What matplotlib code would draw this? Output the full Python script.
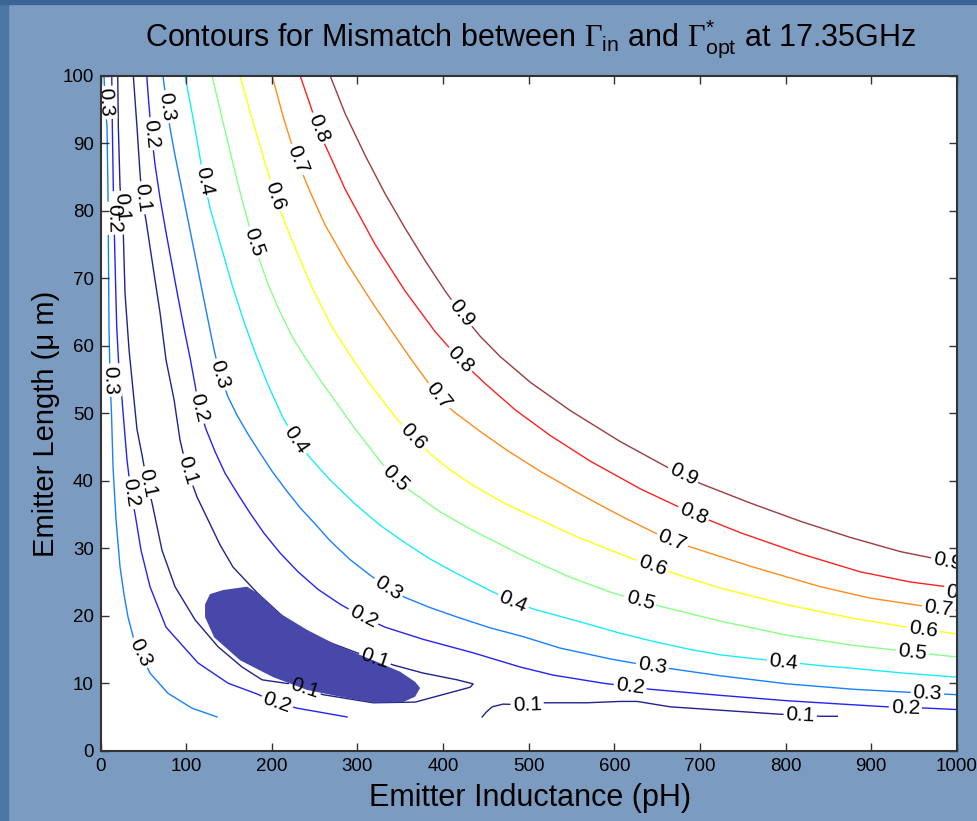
import numpy as np
import matplotlib.pyplot as plt
from matplotlib.patches import Rectangle

plt.rcParams['font.family'] = ['Liberation Sans', 'DejaVu Sans']
plt.rcParams['mathtext.fontset'] = 'custom'
plt.rcParams['mathtext.rm'] = 'Liberation Sans'
plt.rcParams['mathtext.it'] = 'Liberation Sans:italic'
plt.rcParams['mathtext.bf'] = 'Liberation Sans:bold'
plt.rcParams['mathtext.cal'] = 'Liberation Serif'

# contour paths: emitter inductance (pH), emitter length (um)
c09_x = [268, 285.5, 308.9, 332.3, 355.6, 379.0, 402.4, 421.1, 443.3, 466.6, 501.7, 548.4, 606.9, 661.8, 680.5, 700.3, 758.7, 817.2, 875.6, 934.0, 1000]
c09_y = [100, 94.4, 88.2, 82.5, 77.4, 72.6, 68.1, 64.8, 61.4, 58.4, 54.6, 50.4, 45.8, 42.0, 40.9, 39.6, 36.7, 34.0, 31.6, 29.5, 27.8]

c08_x = [233.0, 256.2, 285.5, 320.6, 355.6, 390.6, 419.8, 449.1, 484.2, 525.1, 571.9, 630.3, 692.3, 747.2, 817.2, 887.3, 945.7, 1000]
c08_y = [100, 91.4, 83.2, 75.0, 68.1, 62.1, 57.9, 54.4, 50.5, 46.7, 42.9, 38.8, 35.1, 32.3, 29.2, 26.5, 25.0, 24.1]

c07_x = [200.2, 213.0, 223.5, 232.9, 244.6, 262.1, 287.8, 318.2, 338.1, 361.5, 394.2, 411.7, 443.3, 474.8, 513.4, 551.9, 583.5, 610.4, 645.4, 667.6, 688.7, 762.3, 840.6, 899.0, 957.5, 1000]
c07_y = [100, 94.0, 89.7, 86.4, 82.8, 77.9, 72.2, 66.2, 62.5, 58.2, 52.5, 50.3, 47.3, 44.5, 41.4, 38.6, 36.4, 34.6, 32.4, 31.1, 30.2, 27.2, 24.3, 22.6, 21.5, 20.8]

c06_x = [162.8, 174.5, 186.2, 195.4, 203.6, 214.2, 227.1, 248.1, 271.5, 291.4, 311.2, 332.2, 346.3, 365.0, 384.8, 408.2, 435.1, 472.5, 513.4, 554.3, 591.7, 622.1, 644.3, 668.9, 723.8, 802.1, 879.3, 937.7, 961.1, 1000]
c06_y = [100, 94.6, 89.6, 85.6, 82.2, 78.5, 74.5, 68.3, 62.5, 58.6, 54.9, 51.4, 49.1, 46.5, 44.0, 41.6, 39.3, 36.6, 34.2, 31.8, 29.9, 28.4, 27.4, 26.3, 24.1, 21.6, 19.6, 18.4, 18.0, 17.3]

c05_x = [130.1, 141.8, 153.5, 165.1, 174.5, 183.8, 195.5, 209.5, 224.7, 242.3, 259.8, 279.7, 294.8, 326.4, 343.9, 361.5, 396.5, 435.1, 495.9, 548.4, 595.2, 630.2, 653.6, 723.8, 802.1, 879.3, 922.5, 948.2, 969.3, 1000]
c05_y = [100, 93.7, 87.5, 81.6, 77.3, 73.3, 69.1, 65.0, 61.1, 57.6, 54.3, 50.8, 48.1, 42.9, 40.4, 38.5, 35.4, 32.6, 28.7, 25.7, 23.5, 22.2, 21.4, 19.2, 17.1, 15.6, 15.0, 14.6, 14.3, 13.9]

c04_x = [98.5, 104.4, 110.2, 116.1, 120.7, 127.7, 141.8, 153.5, 167.5, 181.5, 195.5, 213.0, 228.2, 244.6, 268.0, 298.4, 326.4, 355.6, 384.8, 415.2, 458.4, 481.8, 505.2, 536.8, 568.3, 606.9, 645.4, 688.7, 723.8, 758.8, 797.4, 840.6, 879.3, 937.7, 1000]
c04_y = [100, 96.1, 92.1, 87.8, 84.4, 80.4, 74.2, 69.0, 63.5, 58.6, 54.2, 49.3, 46.0, 43.4, 40.1, 36.4, 33.4, 30.8, 28.4, 26.3, 23.5, 22.1, 21.0, 19.9, 18.8, 17.4, 16.2, 15.0, 14.2, 13.7, 13.2, 12.6, 12.2, 11.5, 10.9]

c03a_x = [3.9, 5.0, 7.4, 8.5, 9.1, 9.7, 10.9, 12.6, 14.4, 17.9, 22.6, 27.3, 31.9, 38.9, 45.9, 57.6, 78.6, 106.7, 135.9]
c03a_y = [100, 96.0, 92.4, 82.6, 72.7, 62.8, 54.9, 50.0, 42.0, 34.2, 27.2, 23.1, 19.8, 16.4, 14.5, 11.5, 8.5, 6.3, 5.0]
c03b_x = [72.8, 76.3, 81.0, 86.8, 93.8, 102.0, 110.2, 118.4, 125.4, 132.4, 139.4, 148.8, 159.3, 172.1, 186.2, 200.2, 216.6, 232.9, 250.5, 268.0, 291.4, 314.8, 335.7, 355.6,
          384.8, 416.4, 455.0, 493.5, 536.8, 595.2, 644.3, 668.9, 723.8, 802.1, 879.3, 937.7, 965.8, 1000]
c03b_y = [100, 96.4, 92.2, 88.2, 83.8, 78.6, 73.4, 68.2, 63.8, 59.4, 55.7, 52.4, 49.7, 46.9, 44.1, 41.4, 38.6, 36.0, 33.6, 31.1, 28.3, 26.0, 24.1, 22.7,
          21.2, 19.8, 18.2, 16.9, 15.2, 13.6, 12.5, 12.1, 11.1, 9.9, 9.1, 8.7, 8.5, 8.3]

c02a_x = [12.9, 13.6, 14.7, 15.5, 16.7, 18.7, 21.4, 24.9, 30.7, 35.4, 40.1, 47.1, 57.6, 76.3, 113.7, 148.8, 182.7, 206.0, 229.4, 287.8]
c02a_y = [100, 92.4, 83.5, 78.9, 72.7, 62.8, 56.4, 52.0, 43.1, 38.2, 35.1, 29.7, 24.3, 18.3, 13.0, 10.0, 8.4, 7.1, 6.3, 5.0]
c02b_x = [53.8, 55.9, 58.8, 63.5, 69.3, 76.3, 83.3, 90.3, 97.3, 104.4, 110.2, 114.9, 123.1, 133.6, 145.3, 159.3, 174.5, 190.9, 209.5, 230.6, 253.9, 279.7, 306.6,
          332.2, 376.7, 435.1, 490.0, 528.6, 587.0, 618.6, 641.9, 723.8, 802.1, 879.3, 919.0, 940.0, 965.8, 1000]
c02b_y = [100, 96.4, 92.0, 86.8, 81.9, 76.8, 72.0, 67.2, 62.6, 58.2, 54.2, 50.8, 47.6, 44.3, 41.1, 38.2, 35.2, 32.2, 29.3, 26.5, 23.9, 21.7, 19.8,
          18.3, 16.5, 14.5, 12.4, 11.2, 10.0, 9.5, 9.1, 8.2, 7.4, 6.8, 6.5, 6.4, 6.3, 6.1]

c01a_x = [19.9, 20.6, 22.6, 24.5, 26.4, 28.4, 33.1, 38.9, 42.4, 48.3, 54.1, 60.0, 71.6, 86.8, 110.2, 137.1, 165.1, 188.5, 221.2, 238.7, 259.8, 318.2, 367.3, 408.2, 431.6, 435.1,
          416.4, 376.7, 341.6, 320.6, 299.5, 259.8, 221.2, 182.7, 154.6, 139.4, 125.4, 112.5, 100.9, 92.7, 85.7, 76.3, 69.3, 59.9, 52.9, 48.3, 45.9, 42.4, 38.1]
c01a_y = [100, 92.4, 83.5, 80.5, 76.7, 67.8, 59.4, 52.0, 47.6, 43.8, 39.7, 36.7, 29.7, 24.3, 19.4, 15.4, 12.4, 10.5, 9.9, 9.3, 8.3, 7.1, 7.2, 8.6, 9.4, 9.9,
          10.5, 11.5, 12.7, 13.7, 14.5, 16.4, 18.9, 23.4, 27.2, 30.5, 34.2, 37.6, 41.6, 46.0, 52.0, 57.9, 64.9, 72.7, 78.6, 81.9, 85.6, 92.4, 100]
c01b_x = [445.6, 450.3, 457.3, 470.1, 498.2, 519.2, 568.3, 606.8, 626.7, 665.3, 723.7, 793.9, 817.2, 840.6, 860.5]
c01b_y = [5.0, 5.7, 6.5, 6.9, 6.8, 7.1, 7.1, 7.3, 7.3, 6.5, 6.0, 5.4, 5.3, 5.1, 5.1]

# filled minimum region
blob_x = [121.9, 127.7, 142.9, 170.9, 186.2, 206.0, 241.1, 279.7, 318.2, 349.8, 367.3, 373.1, 367.3, 353.3, 318.2, 279.7, 241.1, 201.4, 162.8, 132.5, 121.9]
blob_y = [21.7, 23.2, 23.8, 24.3, 23.1, 20.6, 17.9, 15.4, 13.4, 11.7, 10.2, 9.3, 8.0, 7.2, 7.1, 8.0, 9.0, 10.9, 13.4, 16.8, 19.8]

# inline labels
lab_val = [0.9, 0.9, 0.9,
           0.8, 0.8, 0.8, 0.8,
           0.7, 0.7, 0.7, 0.7,
           0.6, 0.6, 0.6, 0.6,
           0.5, 0.5, 0.5, 0.5,
           0.4, 0.4, 0.4, 0.4,
           0.3, 0.3, 0.3, 0.3, 0.3, 0.3, 0.3, 0.3,
           0.2, 0.2, 0.2, 0.2, 0.2, 0.2, 0.2, 0.2,
           0.1, 0.1, 0.1, 0.1, 0.1, 0.1, 0.1, 0.1]
lab_x = [421.1, 680.5, 989.0,
         254.0, 419.8, 692.3, 1004.0,
         229.4, 394.2, 667.6, 978.7,
         203.6, 365.0, 644.3, 961.1,
         179.2, 343.9, 630.2, 948.2,
         120.7, 228.2, 481.8, 797.4,
         5.0, 10.9, 45.9, 77.4, 139.4, 335.7, 644.3, 965.8,
         15.5, 35.4, 206.0, 59.3, 114.9, 306.6, 618.6, 940.0,
         24.5, 54.1, 238.7, 320.6, 100.9, 48.3, 498.2, 817.2]
lab_y = [64.8, 40.9, 28.0,
         92.2, 57.9, 35.1, 23.3,
         87.6, 52.5, 31.1, 21.1,
         82.2, 46.5, 27.4, 18.0,
         75.3, 40.4, 22.2, 14.6,
         84.4, 46.0, 22.1, 13.2,
         96.0, 54.9, 14.5, 95.4, 55.7, 24.1, 12.5, 8.5,
         78.9, 38.2, 7.1, 91.4, 50.8, 19.8, 9.5, 6.4,
         80.5, 39.7, 9.3, 13.7, 41.6, 81.9, 6.8, 5.3]

colors = {0.1: '#22228c', 0.2: '#2424f0', 0.3: '#1880ff', 0.4: '#18ecfa',
          0.5: '#88ff88', 0.6: '#ffff10', 0.7: '#ff8c1a', 0.8: '#ff2020', 0.9: '#9c3c3c'}

paths = [(0.1, c01a_x, c01a_y), (0.1, c01b_x, c01b_y),
         (0.2, c02a_x, c02a_y), (0.2, c02b_x, c02b_y),
         (0.3, c03a_x, c03a_y), (0.3, c03b_x, c03b_y),
         (0.4, c04_x, c04_y), (0.5, c05_x, c05_y), (0.6, c06_x, c06_y),
         (0.7, c07_x, c07_y), (0.8, c08_x, c08_y), (0.9, c09_x, c09_y)]

fig = plt.figure(figsize=(9.77, 8.21), dpi=100, facecolor='#7b9cc0')
fig.patches.append(Rectangle((0, 0), 8 / 977, 1, transform=fig.transFigure, color='#4d76a4', zorder=0))
fig.patches.append(Rectangle((0, 1 - 4 / 821), 1, 4 / 821, transform=fig.transFigure, color='#3a6595', zorder=0))

ax = fig.add_axes([100.7 / 977, 70.3 / 821, 856 / 977, 675 / 821])
ax.set_facecolor('white')

for lev, xs, ys in paths:
    ax.plot(xs, ys, color=colors[lev], lw=1.0, zorder=2)

ax.fill(blob_x, blob_y, color='#4848aa', lw=0, zorder=4)

ax.set_xlim(0, 1000)
ax.set_ylim(0, 100)
ax.set_xticks(np.arange(0, 1001, 100))
ax.set_yticks(np.arange(0, 101, 10))
ax.tick_params(direction='in', top=True, right=True, length=6, width=1,
               labelsize=13.5, pad=5, colors='#333333', labelcolor='black')
for s in ax.spines.values():
    s.set_color('#333333')
    s.set_linewidth(1.5)
    s.set_zorder(7)
ax.xaxis.set_zorder(7)
ax.yaxis.set_zorder(7)


def label_angle(lev, lx, ly):
    p = ax.transData.transform((lx, ly))
    best = None
    for l, xs, ys in paths:
        if l != lev:
            continue
        pts = ax.transData.transform(np.column_stack([xs, ys]))
        d = np.hypot(pts[:, 0] - p[0], pts[:, 1] - p[1])
        i = int(np.argmin(d))
        if best is None or d[i] < best[0]:
            j0 = max(i - 1, 0)
            j1 = min(i + 1, len(pts) - 1)
            best = (d[i], pts[j1] - pts[j0])
    dx, dy = best[1]
    ang = np.degrees(np.arctan2(dy, dx))
    if ang > 90:
        ang -= 180
    if ang < -90:
        ang += 180
    return ang


for v, lx, ly in zip(lab_val, lab_x, lab_y):
    ang = label_angle(v, lx, ly)
    ax.text(lx, ly, f'{v:.1f}', rotation=ang, rotation_mode='anchor', ha='center', va='center',
            fontsize=15, color='white', zorder=3, clip_on=True,
            bbox=dict(facecolor='white', edgecolor='none', pad=1.5))
    ax.text(lx, ly, f'{v:.1f}', rotation=ang, rotation_mode='anchor', ha='center', va='center',
            fontsize=15, color='black', zorder=5, clip_on=True)

fig.text(0.5425, 1 - 46 / 821,
         r'Contours for Mismatch between $\mathcal{\Gamma}_{\mathrm{in}}$ and $\mathcal{\Gamma}^{*}_{\mathrm{opt}}$ at 17.35GHz',
         ha='center', va='baseline', fontsize=22)
fig.text(0.5425, 1 - 806 / 821, 'Emitter Inductance (pH)', ha='center', va='baseline', fontsize=22)
fig.text(46 / 977, 1 - 424 / 821, 'Emitter Length (μ m)', ha='center', va='center', rotation=90, fontsize=21)

fig.savefig('out.png', dpi=100, facecolor=fig.get_facecolor())
